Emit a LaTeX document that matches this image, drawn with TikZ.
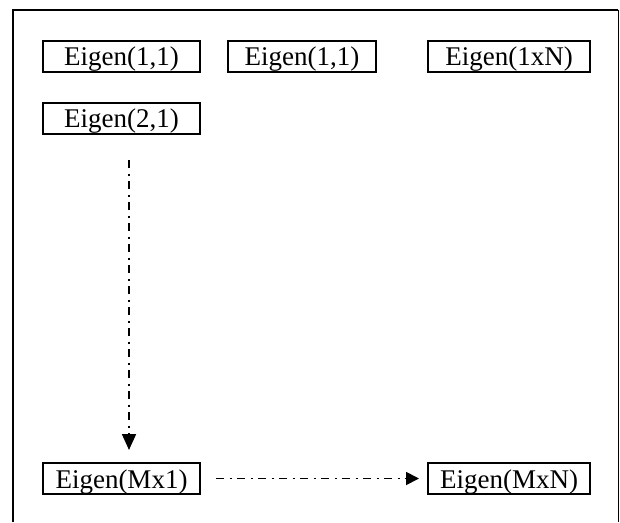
\documentclass[tikz,border=0pt]{standalone}
\usepackage{fontspec}
\setmainfont{Liberation Serif}
\usetikzlibrary{arrows.meta}

\begin{document}
\begin{tikzpicture}[x=1pt, y=-1pt,
    eigbox/.style={draw, line width=2pt, inner sep=0pt, text height=25pt, text depth=6pt,
        font=\fontsize{27}{30}\selectfont},
    flow/.style={line width=1.8pt, dash pattern=on 8pt off 5.5pt on 2pt off 5.5pt}]
    \useasboundingbox (0, 0) rectangle (620, 522);

    \draw[line width=2pt] (13, 522) -- (13, 9.5) -- (618, 9.5);
    \draw[line width=1pt] (618, 9.5) -- (618, 522);

    \node[eigbox, minimum width=157pt] (e11) at (121.5, 56) {Eigen(1,1)};
    \node[eigbox, minimum width=148pt] (e12) at (302, 56) {Eigen(1,1)};
    \node[eigbox, minimum width=162pt] (e1n) at (509, 56) {Eigen(1xN)};
    \node[eigbox, minimum width=157pt] (e21) at (121.5, 118) {Eigen(2,1)};

    \node[eigbox, minimum width=157pt] (em1) at (121.5, 478.5) {Eigen(Mx1)};
    \node[eigbox, minimum width=162pt] (emn) at (509, 478.5) {Eigen(MxN)};

    \coordinate (vtop) at (129, 160);
    \coordinate (vend) at (129, 450);
    \draw[flow, -{Triangle[length=16pt, width=14pt]}] (vtop) -- (vend);

    \coordinate (hstart) at ([xshift=15pt]em1.east);
    \coordinate (hend) at ([xshift=-8pt]emn.west);
    \draw[flow, -{Triangle[length=13pt, width=13pt]}] (hstart) -- (hend);
\end{tikzpicture}
\end{document}
